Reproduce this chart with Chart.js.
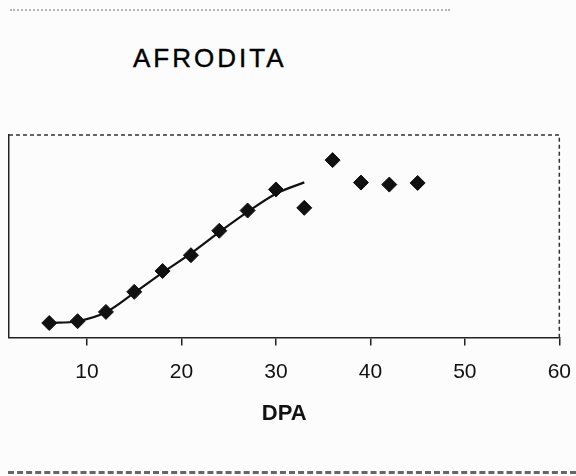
<!DOCTYPE html>
<html>
<head>
<meta charset="utf-8">
<script src="https://cdn.jsdelivr.net/npm/chart.js@4.4.1/dist/chart.umd.min.js"></script>
<style>
  html, body { margin: 0; padding: 0; background: #fcfcfc; }
  #wrap { position: relative; width: 576px; height: 476px; overflow: hidden; }
  #chart { position: absolute; left: 0; top: 0; }
  #title {
    position: absolute; left: 133px; top: 45px;
    font: 26px "Liberation Sans", Arial, sans-serif; line-height: 26px;
    letter-spacing: 3px; color: #000;
    -webkit-text-stroke: 0.4px #000;
  }
  /* scanner edge marks of the original page */
  .scan-top { position: absolute; left: 10px; top: 9px; width: 440px; border-top: 2px dotted #b5b5b5; }
  .scan-bottom { position: absolute; left: 8px; top: 471px; width: 568px; border-top: 3px dashed #666; }
</style>
</head>
<body>
<div id="wrap">
  <div class="scan-top"></div>
  <div id="title">AFRODITA</div>
  <!-- canvas a little wider than the page: the scan crops the right margin -->
  <canvas id="chart" width="585" height="476"></canvas>
  <div class="scan-bottom"></div>
</div>
<script>
// observed points (DPA vs. relative value)
const dpa      = [6, 9, 12, 15, 18, 21, 24, 27, 30, 33, 36, 39, 42, 45];
const observed = [7.1, 8.0, 12.6, 22.5, 32.8, 40.6, 52.7, 62.7, 73.1, 64.0, 87.6, 76.5, 75.5, 76.3];

// fitted curve, drawn only up to 33 DPA
const fitDpa = [6, 9, 12, 15, 18, 21, 24, 27, 30, 33];
const fitted = [7.1, 8.0, 12.4, 22.0, 32.0, 41.5, 52.0, 62.0, 71.0, 76.6];

const xTicks = [10, 20, 30, 40, 50, 60];

const ink = '#111';
const FONT = '"Liberation Sans", Arial, sans-serif';

// dashed top and right edges of the plot frame
const framePlugin = {
  id: 'frame',
  afterDraw(chart) {
    const { ctx, chartArea: a } = chart;
    ctx.save();
    ctx.strokeStyle = '#333';
    ctx.lineWidth = 1.5;
    ctx.setLineDash([4, 3]);
    ctx.beginPath();
    ctx.moveTo(a.left, a.top);
    ctx.lineTo(a.right, a.top);
    ctx.lineTo(a.right, a.bottom);
    ctx.stroke();
    ctx.restore();
  }
};

new Chart(document.getElementById('chart'), {
  type: 'scatter',
  data: {
    datasets: [
      {
        label: 'fit',
        data: fitDpa.map((x, i) => ({ x, y: fitted[i] })),
        showLine: true,
        borderColor: ink,
        borderWidth: 2.2,
        pointRadius: 0,
        cubicInterpolationMode: 'monotone',
        order: 2
      },
      {
        label: 'observed',
        data: dpa.map((x, i) => ({ x, y: observed[i] })),
        pointStyle: 'rectRot',
        pointRadius: 7.5,
        backgroundColor: ink,
        borderColor: ink,
        borderWidth: 1,
        order: 1
      }
    ]
  },
  options: {
    responsive: false,
    animation: false,
    layout: { padding: { top: 135, left: 9, right: 4, bottom: 49 } },
    plugins: { legend: { display: false }, tooltip: { enabled: false }, title: { display: false } },
    scales: {
      x: {
        type: 'linear',
        min: 1.74,
        max: 60,
        afterBuildTicks: axis => { axis.ticks = xTicks.map(v => ({ value: v })); },
        grid: { drawOnChartArea: false, drawTicks: true, tickLength: 8, color: '#222', lineWidth: 1.5 },
        border: { display: true, color: '#222', width: 1.5, dash: [5, 3] },
        ticks: { color: ink, padding: 14, font: { family: FONT, size: 21 } },
        title: {
          display: true, text: 'DPA', color: ink,
          font: { family: FONT, size: 22, weight: 'bold' },
          padding: { top: 2, bottom: 0 }
        }
      },
      y: {
        min: 0,
        max: 100,
        grid: { display: false, drawTicks: false },
        ticks: { display: false },
        border: { display: true, color: '#222', width: 1.5 }
      }
    }
  },
  plugins: [framePlugin]
});
</script>
</body>
</html>
